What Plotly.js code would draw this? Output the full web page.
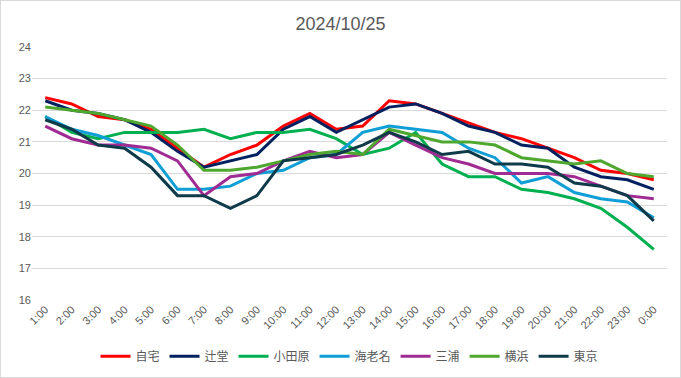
<!DOCTYPE html>
<html>
<head>
<meta charset="utf-8">
<script src="https://cdn.plot.ly/plotly-3.0.1.min.js"></script>
<style>
html,body{margin:0;padding:0;background:#fff;}
#chart{width:679px;height:376px;border:1px solid #D9D9D9;}
</style>
</head>
<body>
<div id="chart"></div>
<script>
const hours = ["1:00","2:00","3:00","4:00","5:00","6:00","7:00","8:00","9:00","10:00","11:00","12:00","13:00","14:00","15:00","16:00","17:00","18:00","19:00","20:00","21:00","22:00","23:00","0:00"];
const seriesNames = ["自宅","辻堂","小田原","海老名","三浦","横浜","東京"];
const jitaku   = [22.4,22.2,21.8,21.7,21.4,20.8,20.2,20.6,20.9,21.5,21.9,21.4,21.5,22.3,22.2,21.9,21.6,21.3,21.1,20.8,20.5,20.1,20.0,19.8];
const tsujido  = [22.3,22.0,21.9,21.7,21.3,20.7,20.2,20.4,20.6,21.4,21.8,21.3,21.7,22.1,22.2,21.9,21.5,21.3,20.9,20.8,20.2,19.9,19.8,19.5];
const odawara  = [21.8,21.3,21.1,21.3,21.3,21.3,21.4,21.1,21.3,21.3,21.4,21.1,20.6,20.8,21.3,20.3,19.9,19.9,19.5,19.4,19.2,18.9,18.3,17.6];
const ebina    = [21.8,21.4,21.2,20.9,20.6,19.5,19.5,19.6,20.0,20.1,20.5,20.6,21.3,21.5,21.4,21.3,20.8,20.5,19.7,19.9,19.4,19.2,19.1,18.6];
const miura    = [21.5,21.1,20.9,20.9,20.8,20.4,19.3,19.9,20.0,20.4,20.7,20.5,20.6,21.3,20.9,20.5,20.3,20.0,20.0,20.0,19.9,19.6,19.3,19.2];
const yokohama = [22.1,22.0,21.9,21.7,21.5,20.9,20.1,20.1,20.2,20.4,20.6,20.7,20.6,21.4,21.2,21.0,21.0,20.9,20.5,20.4,20.3,20.4,20.0,19.9];
const tokyo    = [21.7,21.4,20.9,20.8,20.2,19.3,19.3,18.9,19.3,20.4,20.5,20.6,20.9,21.3,21.0,20.6,20.7,20.3,20.3,20.2,19.7,19.6,19.3,18.5];
const yTicks = [16,17,18,19,20,21,22,23,24];

const values = [jitaku,tsujido,odawara,ebina,miura,yokohama,tokyo];
const colors = ["#FF0000","#002060","#00B050","#0F9ED5","#A02B93","#4EA72E","#0E3A4A"];

const traces = seriesNames.map((n,i)=>({
  type:"scatter", mode:"lines", name:n, x:hours, y:values[i],
  line:{color:colors[i], width:3, shape:"linear"}
}));

const layout = {
  width:679, height:376,
  margin:{l:31, r:13, t:46, b:77},
  paper_bgcolor:"#fff", plot_bgcolor:"#fff",
  font:{family:"Liberation Sans, Arial, sans-serif", color:"#595959", size:11},
  title:{text:"2024/10/25", font:{size:18, color:"#595959", family:"Liberation Sans, Arial, sans-serif"}, x:0.5, xanchor:"center", yref:"container", y:0.94, yanchor:"middle"},
  xaxis:{type:"category", range:[-0.5, hours.length-0.5], tickangle:-45, showgrid:false, zeroline:false, showline:false, ticks:"", tickfont:{size:11, color:"#595959"}},
  yaxis:{range:[16,24], tickvals:yTicks, showgrid:true, gridcolor:"#D9D9D9", gridwidth:1, zeroline:false, showline:false, ticks:"", tickfont:{size:11, color:"#595959"}, fixedrange:true},
  showlegend:true,
  legend:{orientation:"h", x:0.5, xanchor:"center", yref:"container", y:0.055, yanchor:"middle", font:{family:"Noto Sans CJK JP, sans-serif", size:12, color:"#595959"}, itemwidth:30, tracegroupgap:0}
};

Plotly.newPlot("chart", traces, layout, {displayModeBar:false, staticPlot:true});
</script>
</body>
</html>
